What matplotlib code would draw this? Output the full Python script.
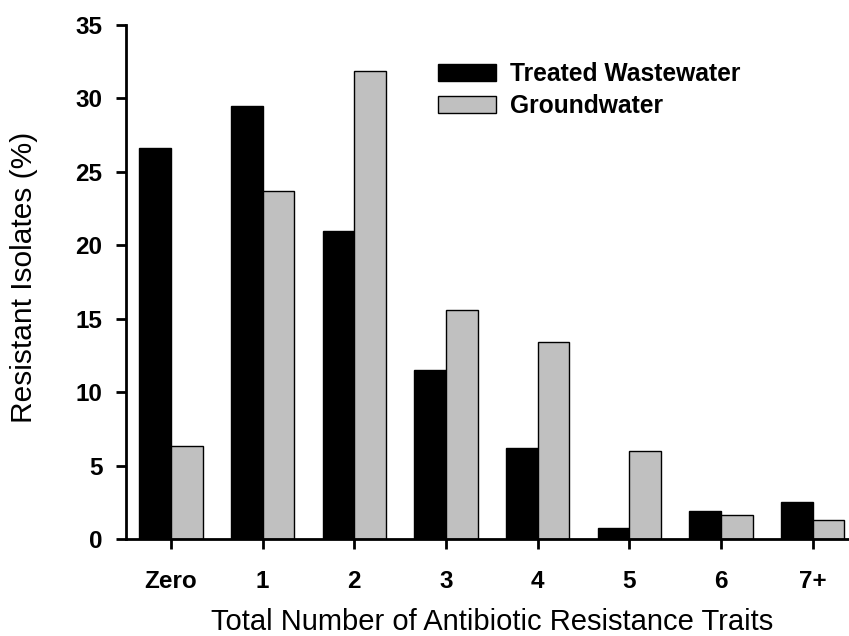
import matplotlib
matplotlib.use("Agg")
import matplotlib.pyplot as plt
import numpy as np

plt.rcParams['font.family'] = ['Liberation Sans', 'DejaVu Sans']

categories = ["Zero", "1", "2", "3", "4", "5", "6", "7+"]
treated_wastewater = [26.6, 29.5, 21.0, 11.5, 6.2, 0.75, 1.9, 2.5]
groundwater = [6.3, 23.7, 31.9, 15.6, 13.4, 6.0, 1.65, 1.3]
y_ticks = [0, 5, 10, 15, 20, 25, 30, 35]

BAR_W = 0.345
GRAY = "#c0c0c0"

fig = plt.figure(figsize=(8.49, 6.36), dpi=100)
ax = fig.add_axes([0.1484, 0.1525, 0.8504, 0.8082])

x = np.arange(len(categories))
ax.bar(x - BAR_W / 2, treated_wastewater, BAR_W, color="black", edgecolor="black",
       linewidth=1, label="Treated Wastewater")
ax.bar(x + BAR_W / 2, groundwater, BAR_W, color=GRAY, edgecolor="black",
       linewidth=1, label="Groundwater")

ax.set_xlim(-0.49, 7.385)
ax.set_ylim(0, 35)
ax.set_xticks(x)
ax.set_xticklabels(categories, fontsize=17.5, fontweight="bold")
ax.set_yticks(y_ticks)
ax.set_yticklabels([str(v) for v in y_ticks], fontsize=17.5, fontweight="bold")

for side in ["top", "right"]:
    ax.spines[side].set_visible(False)
for side in ["left", "bottom"]:
    ax.spines[side].set_linewidth(2)
ax.tick_params(axis="both", direction="out", length=7, width=2)
ax.tick_params(axis="x", pad=15)
ax.tick_params(axis="y", pad=10)

# axis titles placed on the figure to match the original layout
fig.text(492 / 849, 1 - 630 / 636, "Total Number of Antibiotic Resistance Traits",
         fontsize=21, ha="center", va="baseline")
fig.text(24 / 849, 1 - 277 / 636, "Resistant Isolates (%)", fontsize=21.5,
         rotation=90, ha="center", va="center")

ax.legend(loc="upper left", bbox_to_anchor=(0.432, 0.928), frameon=False,
          prop={"size": 17.7, "weight": "bold"}, handlelength=2.35,
          handleheight=0.7, handletextpad=0.6, labelspacing=0.33,
          borderaxespad=0, borderpad=0)

fig.savefig("out.png", dpi=100)
